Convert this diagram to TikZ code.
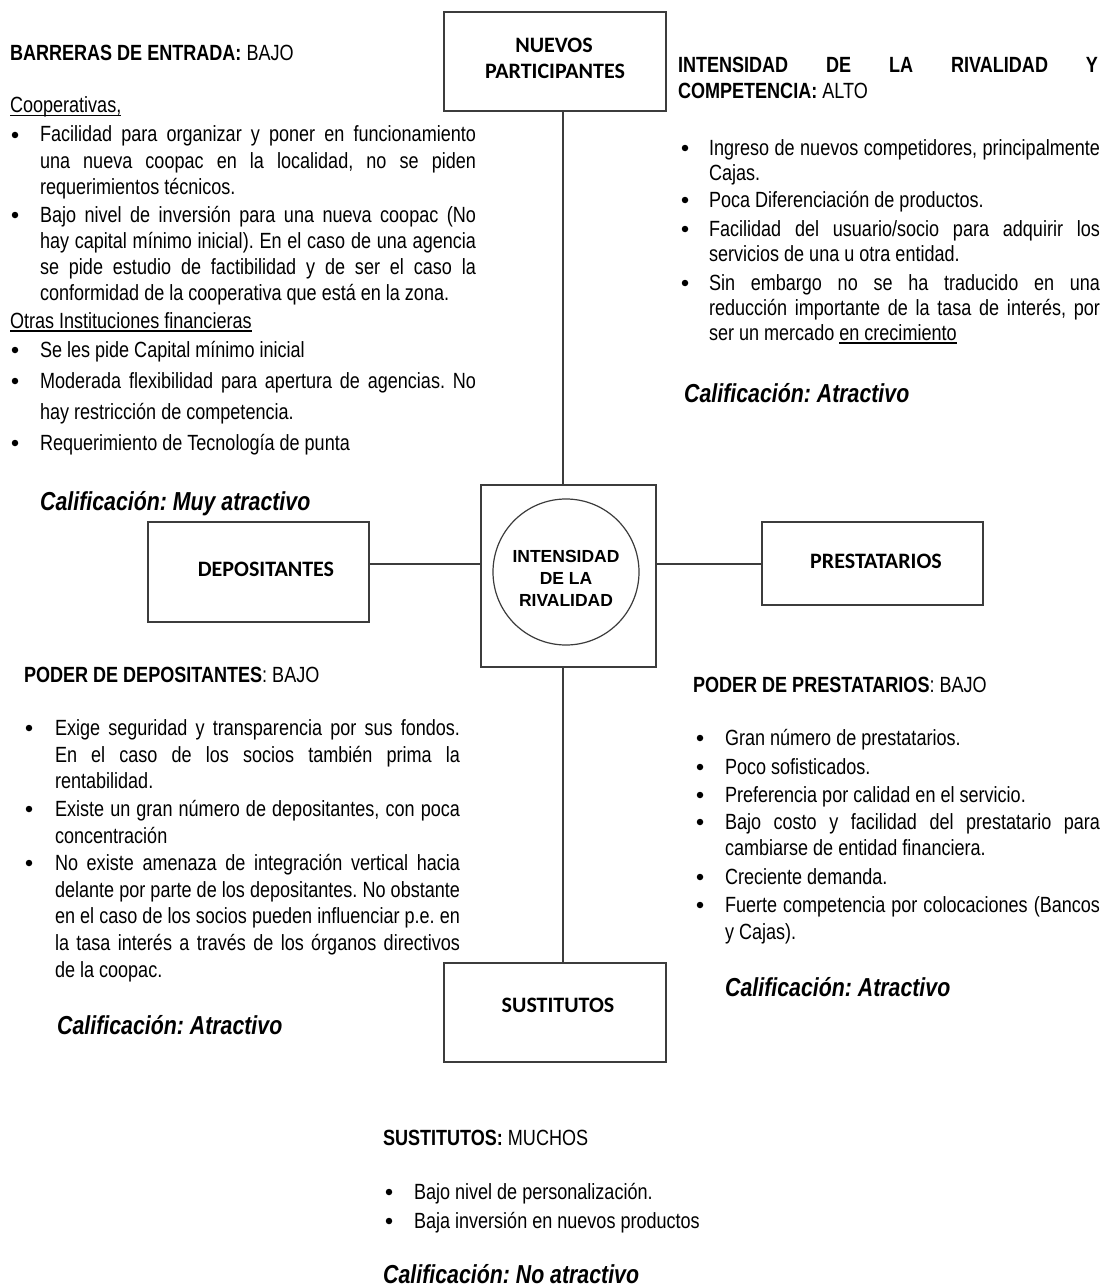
\documentclass[tikz,border=0pt]{standalone}
\usepackage{fontspec}
\newfontfamily\narfont{Liberation Sans}[FakeStretch=0.82]
\newfontfamily\arlfont{Liberation Sans}
\newfontfamily\calfont{Carlito}
\definecolor{ln}{HTML}{3C3C3C}
\frenchspacing
\newcommand\J[2]{\makebox[#1pt][s]{#2}}
\newsavebox\ulbox
\newcommand\ul[1]{\sbox\ulbox{#1}\rlap{\rule[-3.5pt]{\wd\ulbox}{1.3pt}}\usebox\ulbox}
\tikzset{
  body/.style={font=\narfont\frenchspacing\fontsize{22}{26}\selectfont, anchor=base west, inner sep=0pt, outer sep=0pt},
  calif/.style={font=\narfont\frenchspacing\bfseries\itshape\fontsize{26}{30}\selectfont, anchor=base west, inner sep=0pt},
  bul/.style={circle, fill=black, inner sep=0pt, minimum size=6.5pt, yshift=7pt},
  frame/.style={draw=ln, line width=2pt, rectangle, inner sep=0pt},
  lab/.style={font=\calfont\bfseries\fontsize{22}{26}\selectfont, anchor=base, inner sep=0pt},
  clab/.style={font=\arlfont\bfseries\fontsize{17.5}{21}\selectfont, anchor=base, inner sep=0pt},
  conn/.style={draw=ln, line width=1.8pt},
}
\begin{document}
\begin{tikzpicture}[x=1pt,y=-1pt]
\fill[white] (0,0) rectangle (1106,1287);
\useasboundingbox (0,0) rectangle (1106,1287);

% ---------- boxes ----------
\node[frame, minimum width=222pt, minimum height=99pt] (np) at (555,61.5) {};
\node[frame, minimum width=221pt, minimum height=100pt] (dep) at (258.5,572) {};
\node[frame, minimum width=221pt, minimum height=83pt] (pre) at (872.5,563.5) {};
\node[frame, minimum width=222pt, minimum height=99pt] (sus) at (555,1012.5) {};
\node[frame, minimum width=175pt, minimum height=182pt] (sq) at (568.5,576) {};
\node[draw=ln, line width=1.2pt, circle, minimum size=146pt, inner sep=0pt] (circ) at (566,572) {};

\node[lab] (npl1) at (554,53) {NUEVOS};
\node[lab] (npl2) at (555,79) {PARTICIPANTES};
\node[lab] (depl) at (266,576) {DEPOSITANTES};
\node[lab] (prel) at (876,568) {PRESTATARIOS};
\node[lab] (susl) at (558,1012) {SUSTITUTOS};
\node[clab] (cl1) at (566,562) {INTENSIDAD};
\node[clab] (cl2) at (566,584) {DE LA};
\node[clab] (cl3) at (566,606) {RIVALIDAD};

% ---------- connectors ----------
\coordinate (vx) at (563,0);
\coordinate (hy) at (0,564);
\draw[conn] (np.south -| vx) -- (sq.north -| vx);
\draw[conn] (sq.south -| vx) -- (sus.north -| vx);
\draw[conn] (dep.east |- hy) -- (sq.west |- hy);
\draw[conn] (sq.east |- hy) -- (pre.west |- hy);

% ---------- top left ----------
\node[body] (tlh) at (10,61) {\textbf{BARRERAS DE ENTRADA:} BAJO};
\node[body] (tlc) at (10,113) {\ul{Cooperativas,}};
\node[bul] (tlb1) at (15,142) {};
\node[body] (tl1) at (40,142) {\J{436}{Facilidad para organizar y poner en funcionamiento}};
\node[body] (tl2) at (40,168) {\J{436}{una nueva coopac en la localidad, no se piden}};
\node[body] (tl3) at (40,194) {requerimientos técnicos.};
\node[bul] (tlb2) at (15,222) {};
\node[body] (tl4) at (40,222) {\J{436}{Bajo nivel de inversión para una nueva coopac (No}};
\node[body] (tl5) at (40,248) {\J{436}{hay capital mínimo inicial). En el caso de una agencia}};
\node[body] (tl6) at (40,274) {\J{436}{se pide estudio de factibilidad y de ser el caso la}};
\node[body] (tl7) at (40,300) {conformidad de la cooperativa que está en la zona.};
\node[body] (tlo) at (10,328) {\ul{Otras Instituciones financieras}};
\node[bul] (tlb3) at (15,357) {};
\node[body] (tl8) at (40,357) {Se les pide Capital mínimo inicial};
\node[bul] (tlb4) at (15,388) {};
\node[body] (tl9) at (40,388) {\J{436}{Moderada flexibilidad para apertura de agencias. No}};
\node[body] (tl10) at (40,419) {hay restricción de competencia.};
\node[bul] (tlb5) at (15,450) {};
\node[body] (tl11) at (40,450) {Requerimiento de Tecnología de punta};
\node[calif] (tlq) at (40,510) {Calificación: Muy atractivo};

% ---------- top right ----------
\node[body] (trh1) at (678,73) {\J{420}{\bfseries INTENSIDAD DE LA RIVALIDAD Y}};
\node[body] (trh2) at (678,99) {\textbf{COMPETENCIA:} ALTO};
\node[bul] (trb1) at (685,155) {};
\node[body] (tr1) at (709,155) {\J{391}{Ingreso de nuevos competidores, principalmente}};
\node[body] (tr2) at (709,180) {Cajas.};
\node[bul] (trb2) at (685,207) {};
\node[body] (tr3) at (709,207) {Poca Diferenciación de productos.};
\node[bul] (trb3) at (685,236) {};
\node[body] (tr4) at (709,236) {\J{391}{Facilidad del usuario/socio para adquirir los}};
\node[body] (tr5) at (709,261) {servicios de una u otra entidad.};
\node[bul] (trb4) at (685,290) {};
\node[body] (tr6) at (709,290) {\J{391}{Sin embargo no se ha traducido en una}};
\node[body] (tr7) at (709,315) {\J{391}{reducción importante de la tasa de interés, por}};
\node[body] (tr8) at (709,340) {ser un mercado \ul{en crecimiento}};
\node[calif] (trq) at (684,402) {Calificación: Atractivo};

% ---------- bottom left ----------
\node[body] (blh) at (24,682) {\textbf{PODER DE DEPOSITANTES}: BAJO};
\node[bul] (blb1) at (29,735) {};
\node[body] (bl1) at (55,735) {\J{405}{Exige seguridad y transparencia por sus fondos.}};
\node[body] (bl2) at (55,762) {\J{405}{En el caso de los socios también prima la}};
\node[body] (bl3) at (55,788) {rentabilidad.};
\node[bul] (blb2) at (29,816) {};
\node[body] (bl4) at (55,816) {\J{405}{Existe un gran número de depositantes, con poca}};
\node[body] (bl5) at (55,843) {concentración};
\node[bul] (blb3) at (29,870) {};
\node[body] (bl6) at (55,870) {\J{405}{No existe amenaza de integración vertical hacia}};
\node[body] (bl7) at (55,897) {\J{405}{delante por parte de los depositantes. No obstante}};
\node[body] (bl8) at (55,923) {\J{405}{en el caso de los socios pueden influenciar p.e. en}};
\node[body] (bl9) at (55,950) {\J{405}{la tasa interés a través de los órganos directivos}};
\node[body] (bl10) at (55,977) {de la coopac.};
\node[calif] (blq) at (57,1034) {Calificación: Atractivo};

% ---------- bottom right ----------
\node[body] (brh) at (693,692) {\textbf{PODER DE PRESTATARIOS}: BAJO};
\node[bul] (brb1) at (700,745) {};
\node[body] (br1) at (725,745) {Gran número de prestatarios.};
\node[bul] (brb2) at (700,774) {};
\node[body] (br2) at (725,774) {Poco sofisticados.};
\node[bul] (brb3) at (700,802) {};
\node[body] (br3) at (725,802) {Preferencia por calidad en el servicio.};
\node[bul] (brb4) at (700,829) {};
\node[body] (br4) at (725,829) {\J{375}{Bajo costo y facilidad del prestatario para}};
\node[body] (br5) at (725,855) {cambiarse de entidad financiera.};
\node[bul] (brb5) at (700,884) {};
\node[body] (br6) at (725,884) {Creciente demanda.};
\node[bul] (brb6) at (700,912) {};
\node[body] (br7) at (725,912) {\J{375}{Fuerte competencia por colocaciones (Bancos}};
\node[body] (br8) at (725,939) {y Cajas).};
\node[calif] (brq) at (725,996) {Calificación: Atractivo};

% ---------- bottom centre ----------
\node[body] (bch) at (383,1145) {\textbf{SUSTITUTOS:} MUCHOS};
\node[bul] (bcb1) at (389,1199) {};
\node[body] (bc1) at (414,1199) {Bajo nivel de personalización.};
\node[bul] (bcb2) at (389,1228) {};
\node[body] (bc2) at (414,1228) {Baja inversión en nuevos productos};
\node[calif] (bcq) at (383,1283) {Calificación: No atractivo};
\end{tikzpicture}
\end{document}
